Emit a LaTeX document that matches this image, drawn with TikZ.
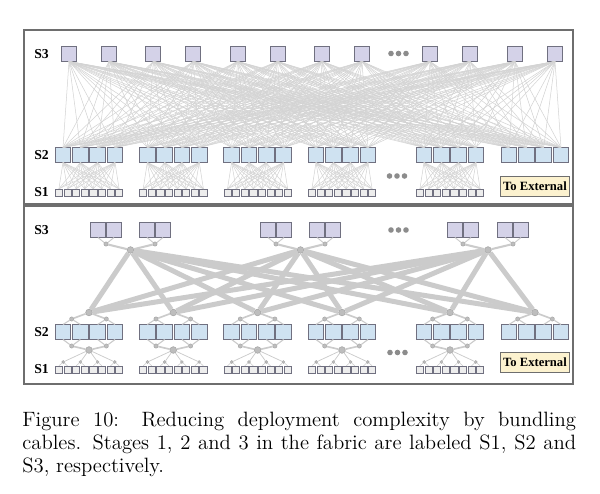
\documentclass[tikz,border=0pt]{standalone}
\usepackage{fontspec}
\newfontfamily\lblfont{Liberation Serif}
\usepackage{xcolor}
\usepackage{tikz}
\usetikzlibrary{positioning}

\definecolor{framegray}{HTML}{6E6E6E}
\definecolor{edgegray}{HTML}{707080}
\definecolor{lavfill}{HTML}{D4D2E8}
\definecolor{bluefill}{HTML}{CFE2F1}
\definecolor{leaffill}{HTML}{EDEDED}
\definecolor{extfill}{HTML}{FCF2CF}
\definecolor{meshgray}{HTML}{D3D3D3}
\definecolor{bundlegray}{HTML}{CBCBCB}
\definecolor{knotgray}{HTML}{BDBDBD}
\definecolor{dotgray}{HTML}{8C8C8C}

\tikzset{
  panel/.style={draw=framegray,line width=1.1pt},
  boxthree/.style={draw=edgegray,fill=lavfill,line width=0.5pt,minimum width=8.1pt,minimum height=7.6pt,inner sep=0pt},
  boxtwo/.style={draw=edgegray,fill=bluefill,line width=0.5pt,minimum width=8.4pt,minimum height=7.6pt,inner sep=0pt},
  boxone/.style={draw=edgegray,fill=leaffill,line width=0.35pt,minimum width=3.9pt,minimum height=3.6pt,inner sep=0pt},
  hub/.style={circle,draw=gray!70,fill=knotgray,line width=0.3pt,minimum size=3.6pt,inner sep=0pt},
  knot/.style={circle,draw=gray!70,fill=knotgray,line width=0.25pt,minimum size=2.3pt,inner sep=0pt},
  dot/.style={circle,fill=dotgray,minimum size=3pt,inner sep=0pt},
  mesh/.style={draw=meshgray,line width=0.28pt},
  wire/.style={draw=bundlegray,line width=#1},
  bundle/.style={draw=bundlegray,line width=2.7pt},
  stage/.style={font=\lblfont\bfseries\fontsize{7.4}{8}\selectfont,inner sep=0pt},
  extbox/.style={draw=framegray,fill=extfill,line width=0.5pt,minimum width=37pt,minimum height=11.3pt,inner sep=0pt,font=\lblfont\bfseries\fontsize{6.8}{7}\selectfont}
}

\begin{document}
\begin{tikzpicture}[x=0.54pt,y=-0.54pt]
  \useasboundingbox (0,0) rectangle (600,494);
  \draw[panel] (24,30) rectangle (573,204);
  \draw[panel] (24,205.5) rectangle (573,384);

  % full mesh
  \foreach \g/\c in {1/89,2/173.3,3/257.6,4/342,5/450,6/535}{
    \node[boxthree] (a3-\g-1) at (\c-20,54) {};
    \node[boxthree] (a3-\g-2) at (\c+20,54) {};
    \foreach \i/\dx in {1/-26,2/-8.67,3/8.67,4/26}
      \node[boxtwo] (a2-\g-\i) at (\c+\dx,155) {};
  }
  \foreach \g/\c in {1/89,2/173.3,3/257.6,4/342,5/450}
    \foreach \j in {1,...,8}
      \node[boxone] (a1-\g-\j) at ({\c-30.1+8.6*(\j-1)},192.5) {};
  \foreach \g in {1,...,6}
    \foreach \k in {1,2}
      \foreach \h in {1,...,6}
        \foreach \i in {1,...,4}
          \draw[mesh] (a3-\g-\k.south) -- (a2-\h-\i.north);
  \foreach \g in {1,...,5}
    \foreach \i in {1,...,4}
      \foreach \j in {1,...,8}
        \draw[mesh] (a2-\g-\i.south) -- (a1-\g-\j.north);
  \node[extbox] (ext-a) at (535,186.5) {To External};
  \foreach \x [count=\n] in {391,398.5,406}{
    \node[dot] (da3-\n) at (\x,53.5) {};
    \node[dot] (da1-\n) at (\x-1.5,176) {};
  }
  \node[stage] (la3) at (41.5,54) {S3};
  \node[stage] (la2) at (41.5,155) {S2};
  \node[stage] (la1) at (41.5,192.5) {S1};

  % bundled
  \foreach \h/\x in {1/130.5,2/300.5,3/488}
    \node[hub] (b3h-\h) at (\x,250) {};
  \foreach \p/\c/\h in {1/106/1,2/155/1,3/276/2,4/325/2,5/463/3,6/513/3}{
    \node[boxthree] (b3-\p-1) at (\c-8,230) {};
    \node[boxthree] (b3-\p-2) at (\c+8,230) {};
    \node[knot] (b3k-\p) at (\c,244) {};
    \draw[wire=0.5pt] (b3-\p-1.south) -- (b3k-\p);
    \draw[wire=0.5pt] (b3-\p-2.south) -- (b3k-\p);
    \draw[wire=1.1pt] (b3k-\p) -- (b3h-\h);
  }
  \foreach \g/\c in {1/89,2/173.3,3/257.6,4/342,5/450,6/535}{
    \node[hub] (b2h-\g) at (\c,312.5) {};
    \node[knot] (b2u-\g-1) at (\c-17.3,319) {};
    \node[knot] (b2u-\g-2) at (\c+17.3,319) {};
    \foreach \i/\dx in {1/-26,2/-8.67,3/8.67,4/26}
      \node[boxtwo] (b2-\g-\i) at (\c+\dx,332) {};
    \draw[wire=0.9pt] (b2h-\g) -- (b2u-\g-1);
    \draw[wire=0.9pt] (b2h-\g) -- (b2u-\g-2);
    \foreach \m/\ia/\ib in {1/1/2,2/3/4}{
      \draw[wire=0.6pt] (b2u-\g-\m) -- (b2-\g-\ia.north);
      \draw[wire=0.6pt] (b2u-\g-\m) -- (b2-\g-\ib.north);
    }
  }
  \foreach \h in {1,2,3}
    \foreach \g in {1,...,6}
      \draw[bundle] (b3h-\h) -- (b2h-\g);
  \foreach \g/\c in {1/89,2/173.3,3/257.6,4/342,5/450}{
    \node[knot] (b2d-\g-1) at (\c-17.3,346) {};
    \node[knot] (b2d-\g-2) at (\c+17.3,346) {};
    \node[hub] (b2l-\g) at (\c,350) {};
    \foreach \j in {1,...,8}
      \node[boxone] (b1-\g-\j) at ({\c-30.1+8.6*(\j-1)},369.5) {};
    \foreach \m/\ia/\ib in {1/1/2,2/3/4}{
      \draw[wire=0.6pt] (b2-\g-\ia.south) -- (b2d-\g-\m);
      \draw[wire=0.6pt] (b2-\g-\ib.south) -- (b2d-\g-\m);
      \draw[wire=0.9pt] (b2d-\g-\m) -- (b2l-\g);
    }
    \foreach \n/\ja/\jb in {1/1/2,2/3/4,3/5/6,4/7/8}{
      \node[knot,minimum size=1.6pt] (b1k-\g-\n) at ({\c-25.8+17.2*(\n-1)},362) {};
      \draw[wire=0.4pt] (b2l-\g) -- (b1k-\g-\n);
      \draw[wire=0.3pt] (b1k-\g-\n) -- (b1-\g-\ja.north);
      \draw[wire=0.3pt] (b1k-\g-\n) -- (b1-\g-\jb.north);
    }
  }
  \node[extbox] (ext-b) at (535,362.5) {To External};
  \foreach \x [count=\n] in {391,398.5,406}{
    \node[dot] (db3-\n) at (\x,230) {};
    \node[dot] (db1-\n) at (\x-1,352.5) {};
  }
  \node[stage] (lb3) at (41.5,230.5) {S3};
  \node[stage] (lb2) at (41.5,332) {S2};
  \node[stage] (lb1) at (41.5,369.5) {S1};

  \node[anchor=north west,inner sep=0pt,text width=299pt,align=justify,font=\fontsize{11.2}{12.4}\selectfont] (cap) at (22,412)
    {Figure 10: Reducing deployment complexity by bundling\linebreak cables. Stages 1, 2 and 3 in the fabric are labeled S1, S2 and\linebreak S3, respectively.};
\end{tikzpicture}
\end{document}
